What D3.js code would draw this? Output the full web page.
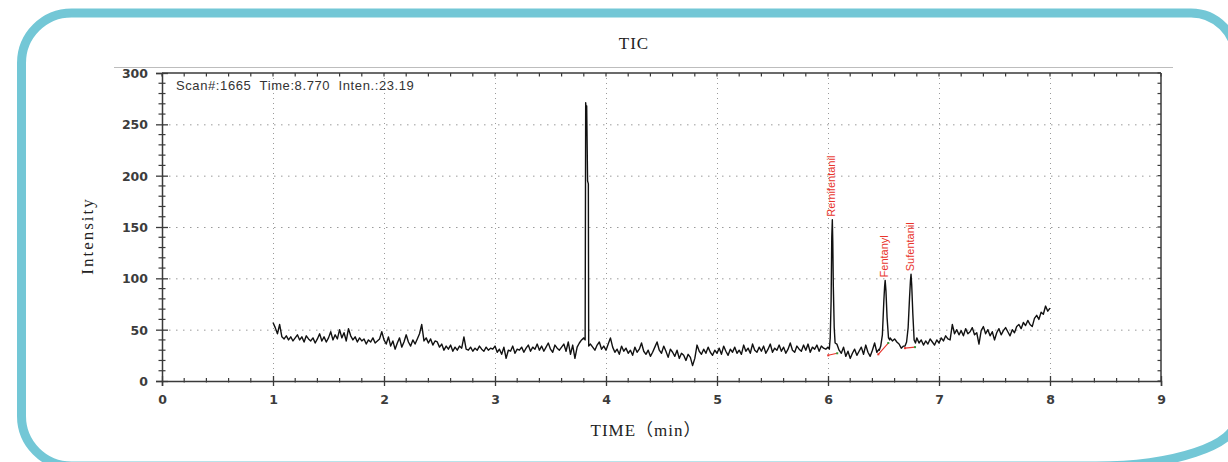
<!DOCTYPE html>
<html><head><meta charset="utf-8">
<script src="https://cdn.jsdelivr.net/npm/d3@7"></script>
<style>body{margin:0;background:#fff}svg{display:block}</style>
</head><body><svg id="c" width="1228" height="462"></svg>
<script>
// ---------- data ----------
const xTicks = [0,1,2,3,4,5,6,7,8,9];
const yTicks = [0,50,100,150,200,250,300];
const infoText = "Scan#:1665  Time:8.770  Inten.:23.19";
const chartTitle = "TIC";
const xTitle = "TIME（min）";
const yTitle = "Intensity";

// TIC baseline, sampled every 0.02 min from 1.00 to 8.00
const baselineStart = 1.0;
const baselineStep = 0.02;
const baselineValues = [
 57,52,46,55,43,41,44,40,43,39,
 42,45,40,43,38,44,41,39,42,37,
 41,46,39,43,38,42,48,40,45,41,
 50,42,47,39,51,44,40,43,38,42,
 39,41,36,40,38,42,37,39,41,48,
 40,36,43,34,39,31,37,42,33,38,
 45,38,34,40,36,41,46,55,39,42,
 37,41,35,39,38,33,36,30,34,31,
 35,29,33,30,34,32,43,31,30,33,
 29,32,30,34,31,29,33,30,32,31,
 34,28,31,26,33,22,30,29,34,27,
 31,30,33,28,32,35,29,33,31,36,
 30,34,29,33,37,31,28,35,32,30,
 33,36,29,38,26,35,22,33,37,40,
 42,40,38,36,33,30,35,38,31,34,
 30,36,42,33,28,31,26,34,29,32,
 27,30,25,33,28,31,37,29,26,30,
 24,28,33,38,30,27,34,29,23,31,
 28,24,30,22,27,25,20,26,23,15,
 22,35,29,26,31,27,33,28,25,30,
 27,32,26,34,29,25,31,28,33,27,
 30,26,35,29,32,27,36,30,28,33,
 29,34,27,31,36,28,32,30,35,29,
 33,27,31,37,30,28,34,31,29,35,
 30,36,28,33,31,35,29,34,32,31,
 33,35,35,35,36,30,27,33,24,29,
 22,27,31,25,29,33,26,35,28,24,
 30,37,28,31,35,35,35,35,42,39,
 41,38,36,32,34,35,35,35,35,35,
 42,37,40,35,39,36,41,38,35,40,
 37,42,39,44,41,40,55,46,50,45,
 49,44,51,46,48,52,45,47,36,49,
 53,46,50,44,48,40,47,51,45,49,
 52,48,44,50,47,53,55,51,57,54,
 59,55,53,61,64,60,67,65,73,68,
 71
];

// peak profiles (time in min, intensity)
const spikeTimes  = [3.812,3.817,3.822,3.826,3.834,3.841,3.844];
const spikeValues = [40,271,262,268,195,192,34];
const remiTimes   = [6.012,6.020,6.028,6.034,6.039,6.043,6.048,6.056,6.064];
const remiValues  = [31,42,78,140,157,136,92,52,37];
const fentTimes   = [6.462,6.475,6.490,6.503,6.510,6.515,6.522,6.532,6.545,6.556];
const fentValues  = [30,34,45,78,92,98,88,62,42,40];
const sufTimes    = [6.694,6.708,6.722,6.735,6.743,6.748,6.754,6.764,6.776,6.788];
const sufValues   = [34,38,52,82,98,104,94,66,40,37];

// labelled peaks
const peakNames  = ["Remifentanil","Fentanyl","Sufentanil"];
const peakTimes  = [6.039,6.514,6.748];
const peakValues = [157,98,104];

// integration baselines
const integStartT = [6.002,6.453,6.694];
const integStartV = [25,26,32];
const integEndT   = [6.083,6.543,6.784];
const integEndV   = [27,37,33];

// ---------- build series ----------
const profiles = [[spikeTimes,spikeValues],[remiTimes,remiValues],[fentTimes,fentValues],[sufTimes,sufValues]];
let pts = [];
baselineValues.forEach((v,i)=>{
  const t = +(baselineStart + i*baselineStep).toFixed(3);
  const inside = profiles.some(([ts])=> t>=ts[0] && t<=ts[ts.length-1]);
  if(!inside) pts.push([t,v]);
});
profiles.forEach(([ts,vs])=> ts.forEach((t,i)=>pts.push([t,vs[i]])));
pts.sort((a,b)=>a[0]-b[0]);

// ---------- drawing ----------
const svg = d3.select("#c");
const X0=162, X1=1161, Y0=381, Y1=73;
const x = d3.scaleLinear().domain([0,9]).range([X0,X1]);
const y = d3.scaleLinear().domain([0,300]).range([Y0,Y1]);

// outer rounded border
svg.append("path")
  .attr("d","M21.5,63 A50,50 0 0 1 71.5,13 L1191,13 A45,45 0 0 1 1236,58 L1236,420 A140,46 0 0 1 1096,466 L71.5,466 A50,50 0 0 1 21.5,416 Z")
  .attr("fill","none").attr("stroke","#73c7d6").attr("stroke-width",9);

// title
svg.append("text").attr("x",634).attr("y",49).attr("text-anchor","middle")
  .attr("font-family","Liberation Serif").attr("font-size",17).attr("letter-spacing",1).attr("fill","#222").text(chartTitle);

// thin gray line above plot
svg.append("line").attr("x1",114).attr("x2",1173).attr("y1",67.5).attr("y2",67.5)
  .attr("stroke","#bdbdbd").attr("stroke-width",1);

// grid
const gGrid = svg.append("g");
gGrid.selectAll(".vg").data(xTicks.filter(d=>d>0&&d<9)).join("line")
  .attr("x1",d=>x(d)+0.5).attr("x2",d=>x(d)+0.5).attr("y1",Y1).attr("y2",Y0)
  .attr("stroke","#9a9a9a").attr("stroke-width",1).attr("stroke-dasharray","1,4");
gGrid.selectAll(".hg").data(yTicks.filter(d=>d>0&&d<300)).join("line")
  .attr("x1",X0).attr("x2",X1).attr("y1",d=>y(d)+0.5).attr("y2",d=>y(d)+0.5)
  .attr("stroke","#9a9a9a").attr("stroke-width",1).attr("stroke-dasharray","1.5,5.5");

// frame top/right
const axisColor="#3a3a3a";
svg.append("line").attr("x1",X0).attr("x2",X1).attr("y1",Y1).attr("y2",Y1).attr("stroke",axisColor).attr("stroke-width",1.5);
svg.append("line").attr("x1",X1).attr("x2",X1).attr("y1",Y1).attr("y2",Y0).attr("stroke",axisColor).attr("stroke-width",1.5);
const minorX = d3.range(0,45).map(i=>i*0.2).concat([9]);
svg.append("g").selectAll("line").data(minorX).join("line")
  .attr("x1",d=>x(d)).attr("x2",d=>x(d)).attr("y1",Y1).attr("y2",Y1+3.5)
  .attr("stroke",axisColor).attr("stroke-width",1.2);
const minorY = d3.range(0,31).map(i=>i*10);
svg.append("g").selectAll("line").data(minorY).join("line")
  .attr("x1",X1).attr("x2",X1-3.5).attr("y1",d=>y(d)).attr("y2",d=>y(d))
  .attr("stroke",axisColor).attr("stroke-width",1.2);

// bottom axis
const tickFont = "DejaVu Sans";
const gx = svg.append("g").attr("transform",`translate(0,${Y0})`)
  .call(d3.axisBottom(x).tickValues(xTicks).tickSize(5).tickFormat(d3.format("d")));
gx.select(".domain").attr("stroke",axisColor).attr("stroke-width",1.5);
gx.selectAll(".tick line").attr("y1",-5).attr("y2",5).attr("stroke",axisColor).attr("stroke-width",1.3);
gx.selectAll(".tick text").attr("y",19).attr("dy","0.35em")
  .attr("font-family",tickFont).attr("font-weight","bold").attr("font-size",12.5).attr("fill","#3c3c3c");
gx.append("g").selectAll("line").data(minorX.filter(d=>Math.abs(d-Math.round(d))>1e-6)).join("line")
  .attr("x1",d=>x(d)).attr("x2",d=>x(d)).attr("y1",-3).attr("y2",1.5)
  .attr("stroke",axisColor).attr("stroke-width",1.2);

// left axis
const gy = svg.append("g").attr("transform",`translate(${X0},0)`)
  .call(d3.axisLeft(y).tickValues(yTicks).tickSize(6));
gy.select(".domain").attr("stroke",axisColor).attr("stroke-width",1.5);
gy.selectAll(".tick line").attr("x1",6).attr("x2",-6).attr("stroke",axisColor).attr("stroke-width",1.3);
gy.selectAll(".tick text").attr("x",-14).attr("dy","0.35em")
  .attr("font-family",tickFont).attr("font-weight","bold").attr("font-size",12.5).attr("fill","#3c3c3c");
gy.append("g").selectAll("line").data(minorY.filter(d=>d%50!==0)).join("line")
  .attr("x1",-3.5).attr("x2",3.5).attr("y1",d=>y(d)).attr("y2",d=>y(d))
  .attr("stroke",axisColor).attr("stroke-width",1.2);

// axis titles
svg.append("text").attr("transform","translate(93,236) rotate(-90)").attr("text-anchor","middle")
  .attr("font-family","Liberation Serif").attr("font-size",17).attr("letter-spacing",2).attr("fill","#222").text(yTitle);
svg.append("text").attr("x",646).attr("y",436).attr("text-anchor","middle")
  .attr("font-family","Liberation Serif, Noto Sans CJK SC").attr("font-size",17).attr("letter-spacing",1).attr("fill","#222").text(xTitle);

// info text
svg.append("text").attr("x",176).attr("y",89.5)
  .attr("font-family","Liberation Sans").attr("font-size",13).attr("letter-spacing",0.6).attr("fill","#333")
  .style("white-space","pre").text(infoText);

// TIC line
svg.append("path").datum(pts)
  .attr("d", d3.line().x(d=>x(d[0])).y(d=>y(d[1])))
  .attr("fill","none").attr("stroke","#111").attr("stroke-width",1.4).attr("stroke-linejoin","round");

// integration baselines
const gi = svg.append("g");
integStartT.forEach((t,i)=>{
  gi.append("line").attr("x1",x(t)).attr("y1",y(integStartV[i])).attr("x2",x(integEndT[i])).attr("y2",y(integEndV[i]))
    .attr("stroke","#e8342c").attr("stroke-width",1.1);
  gi.append("rect").attr("x",x(t)-1).attr("y",y(integStartV[i])-1).attr("width",2).attr("height",2).attr("fill","#e8342c");
  gi.append("rect").attr("x",x(integEndT[i])-1).attr("y",y(integEndV[i])-1).attr("width",2).attr("height",2).attr("fill","#3a9a3a");
});

// peak labels
svg.append("g").selectAll("text").data(peakNames).join("text")
  .attr("transform",(d,i)=>`translate(${x(peakTimes[i])-1},${y(peakValues[i])-3}) rotate(-90)`)
  .attr("dy","0.35em").attr("text-anchor","start")
  .attr("font-family","Liberation Sans").attr("font-size",11).attr("fill","#e8342c").text(d=>d);
</script></body></html>
